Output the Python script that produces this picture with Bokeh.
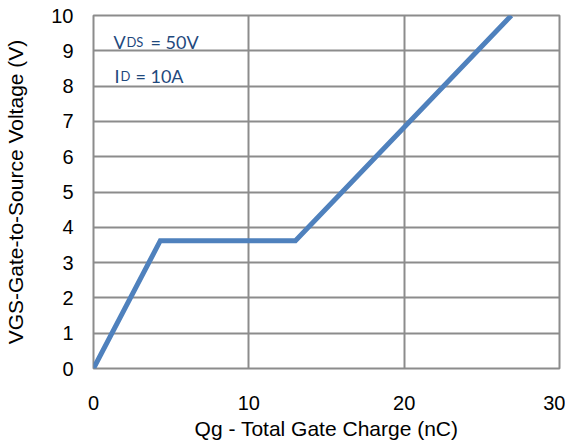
from bokeh.plotting import figure
from bokeh.models import Range1d, FixedTicker, Label
from bokeh.embed import file_html
from bokeh.resources import INLINE

qg = [0, 4.3, 13.0, 26.9]
vgs = [0, 3.62, 3.62, 10.0]
x_ticks = [0, 10, 20, 30]
y_ticks = [0, 1, 2, 3, 4, 5, 6, 7, 8, 9, 10]

FONT = "Liberation Sans"
ANN_FONT = "Lato"
ANN_COLOR = "#1F497D"
GRID = "#8C8C8C"

p = figure(output_backend="svg", toolbar_location=None,
           x_range=Range1d(0, 30), y_range=Range1d(0, 10),
           frame_width=466, frame_height=353,
           min_border_left=93, min_border_top=15, min_border_right=6, min_border_bottom=70)

p.line(qg, vgs, line_color="#4F81BD", line_width=5, line_join="miter")

for ax in (p.xaxis[0], p.yaxis[0]):
    ax.axis_line_color = None
    ax.major_tick_line_color = None
    ax.minor_tick_line_color = None
    ax.major_tick_out = 0
    ax.major_tick_in = 0
    ax.minor_tick_out = 0
    ax.minor_tick_in = 0
    ax.major_label_text_font = FONT
    ax.major_label_text_font_size = "20px"
    ax.major_label_text_color = "#000000"
    ax.axis_label_text_font = FONT
    ax.axis_label_text_font_size = "21px"
    ax.axis_label_text_font_style = "normal"
    ax.axis_label_text_color = "#000000"

p.xaxis[0].ticker = FixedTicker(ticks=x_ticks)
p.yaxis[0].ticker = FixedTicker(ticks=y_ticks)
p.xaxis[0].axis_label = "Qg - Total Gate Charge (nC)"
p.yaxis[0].axis_label = "VGS-Gate-to-Source Voltage (V)"
p.xaxis[0].major_label_standoff = 27
p.yaxis[0].major_label_standoff = 20
p.xaxis[0].axis_label_standoff = 4
p.yaxis[0].axis_label_standoff = 21

p.xgrid.grid_line_color = GRID
p.ygrid.grid_line_color = GRID
p.xgrid.grid_line_width = 2
p.ygrid.grid_line_width = 2
p.outline_line_color = GRID
p.outline_line_width = 2
p.outline_line_alpha = 1.0
p.background_fill_color = "white"
p.border_fill_color = "white"

def lab(x, y, t, size):
    p.add_layout(Label(x=x, y=y, text=t, text_font=ANN_FONT, text_font_size=size,
                       text_color=ANN_COLOR, text_baseline="alphabetic"))

lab(1.29, 9.25, "V", "18px")
lab(2.12, 9.25, "DS", "13px")
lab(3.67, 9.25, "= 50V", "18px")
lab(1.35, 8.30, "I", "18px")
lab(1.74, 8.30, "D", "13px")
lab(2.70, 8.30, "= 10A", "18px")

open("out.html", "w").write(file_html(p, INLINE))
